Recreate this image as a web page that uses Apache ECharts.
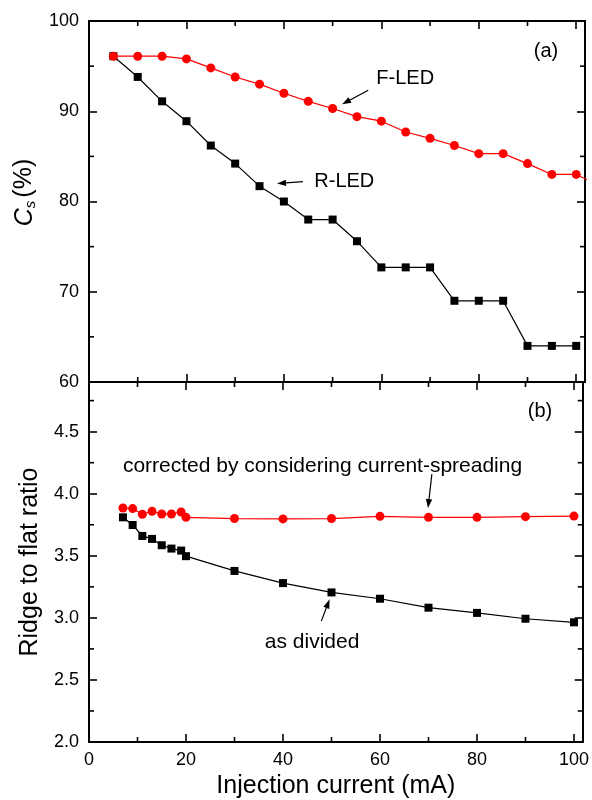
<!DOCTYPE html>
<html>
<head>
<meta charset="utf-8">
<script src="https://cdn.jsdelivr.net/npm/echarts@6/dist/echarts.min.js"></script>
<style>html,body{margin:0;padding:0;background:#fff;}#c{width:592px;height:800px;}</style>
</head>
<body>
<div id="c"></div>
<script>
// ---- data ----
const xCs = [5,10,15,20,25,30,35,40,45,50,55,60,65,70,75,80,85,90,95,100,105];
const fLed = [96.1,96.1,96.1,95.8,94.8,93.8,93.0,92.0,91.1,90.3,89.4,88.9,87.7,87.0,86.2,85.3,85.3,84.2,83.0,83.0,81.7];
const xCsR = [5,10,15,20,25,30,35,40,45,50,55,60,65,70,75,80,85,90,95,100];
const rLed = [96.1,93.8,91.1,88.9,86.2,84.2,81.7,80.0,78.0,78.0,75.6,72.7,72.7,72.7,69.0,69.0,69.0,64.0,64.0,64.0];

const xRatio = [7,9,11,13,15,17,19,20,30,40,50,60,70,80,90,100];
const corrected = [3.885,3.88,3.835,3.858,3.837,3.837,3.853,3.81,3.80,3.797,3.80,3.818,3.81,3.81,3.815,3.82];
const divided = [3.81,3.748,3.66,3.636,3.585,3.558,3.542,3.497,3.378,3.28,3.205,3.154,3.082,3.04,2.993,2.964];

// tick steps and minor tick values
const xTickStep = 20;
const csTickStep = 10;
const ratioTickStep = 0.5;
const xMinor = [10,30,50,70,90];
const csMinor = [65,75,85,95];
const ratioMinor = [2.25,2.75,3.25,3.75,4.25,4.75];

const FONT = '"Liberation Sans", Arial, sans-serif';
const X_MAX = 101.8;
const Y_RANGE = [[60, 100], [2.0, 4.9]];

function zip(xs, ys) { return ys.map((y, i) => [xs[i], y]); }

function axis(opts) {
  return {
    type: 'value',
    gridIndex: opts.grid,
    position: opts.pos,
    min: opts.min, max: opts.max, interval: opts.interval,
    splitLine: { show: false },
    axisLine: { show: true, onZero: false, lineStyle: { color: '#000', width: 2 } },
    axisTick: { show: true, inside: true, length: 8, lineStyle: { color: '#000', width: 1.6 } },
    axisLabel: opts.labels ? { show: true, showMaxLabel: opts.showMax, color: '#000', fontSize: 18,
                fontFamily: FONT, margin: opts.margin || 8, formatter: opts.fmt }
              : { show: false },
    name: opts.name || '',
    nameLocation: 'middle',
    nameGap: opts.nameGap || 0,
    nameTextStyle: opts.nameStyle || {}
  };
}

const xAxes = [];
const yAxes = [];
[0, 1].forEach(g => {
  const isBottom = g === 1;
  xAxes.push(axis({grid: g, pos: 'bottom', min: 0, max: X_MAX, interval: xTickStep,
    labels: isBottom, showMax: false, margin: 9, fmt: v => String(v),
    name: isBottom ? 'Injection current (mA)' : '', nameGap: 32,
    nameStyle: { fontSize: 25, fontFamily: FONT, color: '#000' }}));
  xAxes.push(axis({grid: g, pos: 'top', min: 0, max: X_MAX, interval: xTickStep}));
  const ymin = Y_RANGE[g][0], ymax = Y_RANGE[g][1];
  const st = g === 0 ? csTickStep : ratioTickStep;
  yAxes.push(axis({grid: g, pos: 'left', min: ymin, max: ymax, interval: st,
    labels: true, showMax: g === 0, margin: 10,
    fmt: g === 0 ? (v => String(v)) : (v => v.toFixed(1)),
    name: g === 0 ? '{i|C}{s|s}{n|(%)}' : 'Ridge to flat ratio', nameGap: 42,
    nameStyle: g === 0 ? { fontSize: 25, fontFamily: FONT, color: '#000', padding: [0, 0, 0, 18], rich: {
        i: { fontSize: 25, fontStyle: 'italic', fontFamily: FONT, color: '#000' },
        s: { fontSize: 15, fontStyle: 'italic', fontFamily: FONT, color: '#000', padding: [12, 3, 0, 0] },
        n: { fontSize: 25, fontFamily: FONT, color: '#000' } } }
      : { fontSize: 25, fontFamily: FONT, color: '#000' }}));
  yAxes.push(axis({grid: g, pos: 'right', min: ymin, max: ymax, interval: st}));
});

function lineSeries(data, color, symbol, size, gi) {
  return {
    type: 'line', data: data, xAxisIndex: gi * 2, yAxisIndex: gi * 2,
    symbol: symbol, symbolSize: size, showSymbol: true, clip: true,
    itemStyle: { color: color }, lineStyle: { color: color, width: 1.2 },
    animation: false, z: 3
  };
}

// minor ticks drawn through the axis scales (inside, on all four sides)
function minorTickSeries(gi, xVals, yVals) {
  const data = xVals.map(v => [v, Y_RANGE[gi][0], 0]).concat(yVals.map(v => [0, v, 1]));
  return {
    type: 'custom', xAxisIndex: gi * 2, yAxisIndex: gi * 2, clip: false, silent: true, z: 4,
    encode: { x: 0, y: 1 },
    data: data,
    renderItem: function (params, api) {
      const cs = params.coordSys;
      const kind = api.value(2);
      const p = api.coord([api.value(0), api.value(1)]);
      const L = 5, st = { stroke: '#000', lineWidth: 1.6 };
      if (kind === 0) {
        return { type: 'group', children: [
          { type: 'line', shape: { x1: p[0], y1: cs.y + cs.height, x2: p[0], y2: cs.y + cs.height - L }, style: st },
          { type: 'line', shape: { x1: p[0], y1: cs.y, x2: p[0], y2: cs.y + L }, style: st }
        ] };
      }
      return { type: 'group', children: [
        { type: 'line', shape: { x1: cs.x, y1: p[1], x2: cs.x + L, y2: p[1] }, style: st },
        { type: 'line', shape: { x1: cs.x + cs.width, y1: p[1], x2: cs.x + cs.width - L, y2: p[1] }, style: st }
      ] };
    }
  };
}

const chart = echarts.init(document.getElementById('c'), null, { renderer: 'canvas' });
chart.setOption({
  animation: false,
  backgroundColor: '#fff',
  grid: [
    { left: 89, right: 7, top: 21, height: 361 },
    { left: 89, right: 7, top: 382, height: 361 }
  ],
  xAxis: xAxes,
  yAxis: yAxes,
  series: [
    minorTickSeries(0, xMinor, csMinor),
    minorTickSeries(1, xMinor, ratioMinor),
    lineSeries(zip(xCsR, rLed), '#000', 'rect', 8, 0),
    lineSeries(zip(xCs, fLed), '#ff0000', 'circle', 9, 0),
    lineSeries(zip(xRatio, divided), '#000', 'rect', 8, 1),
    lineSeries(zip(xRatio, corrected), '#ff0000', 'circle', 9, 1)
  ]
});

// ---- annotations (positioned in data coordinates) ----
const texts = [
  { g: 0, at: [93.8, 96.6], t: '(a)', s: 20 },
  { g: 0, at: [64.9, 93.67], t: 'F-LED', s: 20 },
  { g: 0, at: [52.4, 82.2], t: 'R-LED', s: 20 },
  { g: 1, at: [93.0, 4.66], t: '(b)', s: 20 },
  { g: 1, at: [48.15, 4.225], t: 'corrected by considering current-spreading', s: 21 },
  { g: 1, at: [46.0, 2.803], t: 'as divided', s: 21 }
];
const arrows = [
  { g: 0, from: [57.3, 92.33], to: [51.95, 90.78] },
  { g: 0, from: [43.9, 82.2], to: [38.6, 82.0] },
  { g: 1, from: [70.7, 4.158], to: [69.9, 3.885] },
  { g: 1, from: [47.9, 2.974], to: [49.6, 3.149] }
];
function px(g, p) { return chart.convertToPixel({ xAxisIndex: g * 2, yAxisIndex: g * 2 }, p); }
const graphics = [];
texts.forEach(a => {
  const p = px(a.g, a.at);
  graphics.push({ type: 'text', x: p[0], y: p[1], z: 10,
    style: { text: a.t, fill: '#000', font: a.s + 'px ' + FONT, textAlign: 'center', textVerticalAlign: 'middle' } });
});
arrows.forEach(a => {
  const p1 = px(a.g, a.from), p2 = px(a.g, a.to);
  const dx = p2[0] - p1[0], dy = p2[1] - p1[1];
  const L = Math.sqrt(dx * dx + dy * dy);
  const ux = dx / L, uy = dy / L;
  const hl = 9, hw = 3.2;
  const bx = p2[0] - ux * hl, by = p2[1] - uy * hl;
  graphics.push({ type: 'line', z: 10, shape: { x1: p1[0], y1: p1[1], x2: bx, y2: by },
    style: { stroke: '#000', lineWidth: 1.2 } });
  graphics.push({ type: 'polygon', z: 10, shape: { points: [
      [p2[0], p2[1]], [bx - uy * hw, by + ux * hw], [bx + uy * hw, by - ux * hw]] },
    style: { fill: '#000' } });
});
chart.setOption({ graphic: graphics });
</script>
</body>
</html>
